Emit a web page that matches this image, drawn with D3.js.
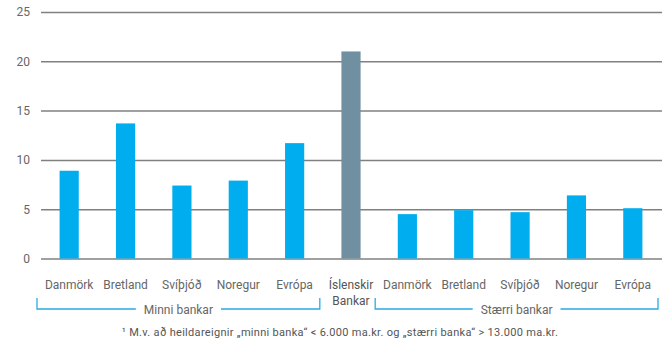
<!DOCTYPE html>
<html>
<head>
<meta charset="utf-8">
<script src="https://cdn.jsdelivr.net/npm/d3@7"></script>
<style>
  body { margin: 0; background: #fff; }
  text { font-family: Roboto, "Noto Sans", sans-serif; fill: #666; }
</style>
</head>
<body>
<div id="chart"></div>
<script>
// bar chart, small vs large banks

let width = 664, height = 341,
margin = ({ top: 12, right: 2, bottom: 82, left: 41 });

const labels = ["Danmörk", "Bretland", "Svíþjóð", "Noregur", "Evrópa", "Íslenskir Bankar",
                "Danmörk", "Bretland", "Svíþjóð", "Noregur", "Evrópa"];
const values = [8.9, 13.7, 7.4, 7.9, 11.7, 21.0, 4.5, 4.9, 4.7, 6.4, 5.1];
const groups = ["small", "small", "small", "small", "small", "iceland",
                "large", "large", "large", "large", "large"];
const yTicks = [0, 5, 10, 15, 20, 25];
const groupNames = [{ key: "small", name: "Minni bankar" }, { key: "large", name: "Stærri bankar" }];
const footnote = "\u00b9 M.v. að heildareignir \u201eminni banka\u201c < 6.000 ma.kr. og \u201estærri banka\u201c > 13.000 ma.kr.";

const svg = d3.select("#chart")
    .append("svg")
    .attr("width", width)
    .attr("height", height);

let x = d3.scaleBand()
    .domain(d3.range(labels.length))
    .range([margin.left, width - margin.right - 1])
    .paddingInner(0.66)
    .paddingOuter(0.33);

let y = d3.scaleLinear()
    .domain([0, 25])
    .range([258.5, margin.top]);

// gridlines
svg.append("g")
    .attr("transform", `translate(${margin.left},0)`)
    .call(d3.axisLeft(y)
      .tickValues(yTicks)
      .tickSize(-(width - margin.left - 2))
      .tickPadding(11))
    .call(g => g.select(".domain").remove())
    .call(g => g.selectAll(".tick line").attr("stroke", "#808080").attr("stroke-width", 1.5))
    .call(g => g.selectAll(".tick text").attr("fill", "#666").style("font-size", "12px")
      .style("font-family", "Roboto, sans-serif"));

// bars
svg.append("g")
  .selectAll("rect")
  .data(values)
  .join("rect")
    .attr("x", (d, i) => x(i))
    .attr("width", x.bandwidth())
    .attr("y", d => y(d))
    .attr("height", d => y(0) - y(d))
    .attr("fill", (d, i) => groups[i] == "iceland" ? "#7090a1" : "#00adef");

// category labels
svg.append("g")
  .selectAll("text")
  .data(labels)
  .join("text")
    .attr("text-anchor", "middle")
    .attr("x", (d, i) => x(i) + x.bandwidth() / 2)
    .attr("y", 289)
    .style("font-size", "12px")
    .style("fill", (d, i) => groups[i] == "iceland" ? "#555" : "#666")
    .each(function(d) {
      let words = d.split(" ");
      let t = d3.select(this);
      words.forEach((w, k) => {
        t.append("tspan")
          .attr("x", t.attr("x"))
          .attr("dy", k == 0 ? 0 : 16)
          .text(w);
      });
    });

// group brackets
let by = 309;
for (let gname of groupNames) {
  let idx = groups.map((g, i) => g == gname.key ? i : -1).filter(i => i >= 0);
  let x0 = x(idx[0]) - x.step() * x.paddingInner() / 2 - 4;
  let x1 = x(idx[idx.length - 1]) + x.bandwidth() + x.step() * x.paddingInner() / 2 - 3;
  if (x1 > width) x1 = width;
  let cx = (x0 + x1) / 2;

  let t = svg.append("text")
    .attr("x", cx)
    .attr("y", by + 5)
    .attr("text-anchor", "middle")
    .style("font-size", "12px")
    .text(gname.name);
  let tw = t.node().getComputedTextLength() / 2 + 8;

  let br = svg.append("g")
    .attr("stroke", "#29abe2")
    .attr("stroke-width", 1.3)
    .attr("fill", "none");
  br.append("path").attr("d", `M${x0},${by - 11}V${by}H${cx - tw}`);
  br.append("path").attr("d", `M${cx + tw},${by}H${x1}` + (x1 < width ? `V${by - 11}` : ""));
}

// footnote
svg.append("text")
  .attr("x", 340)
  .attr("y", 336)
  .attr("text-anchor", "middle")
  .style("font-size", "11px")
  .style("letter-spacing", "0.3px")
  .style("fill", "#555")
  .text(footnote);
</script>
</body>
</html>
